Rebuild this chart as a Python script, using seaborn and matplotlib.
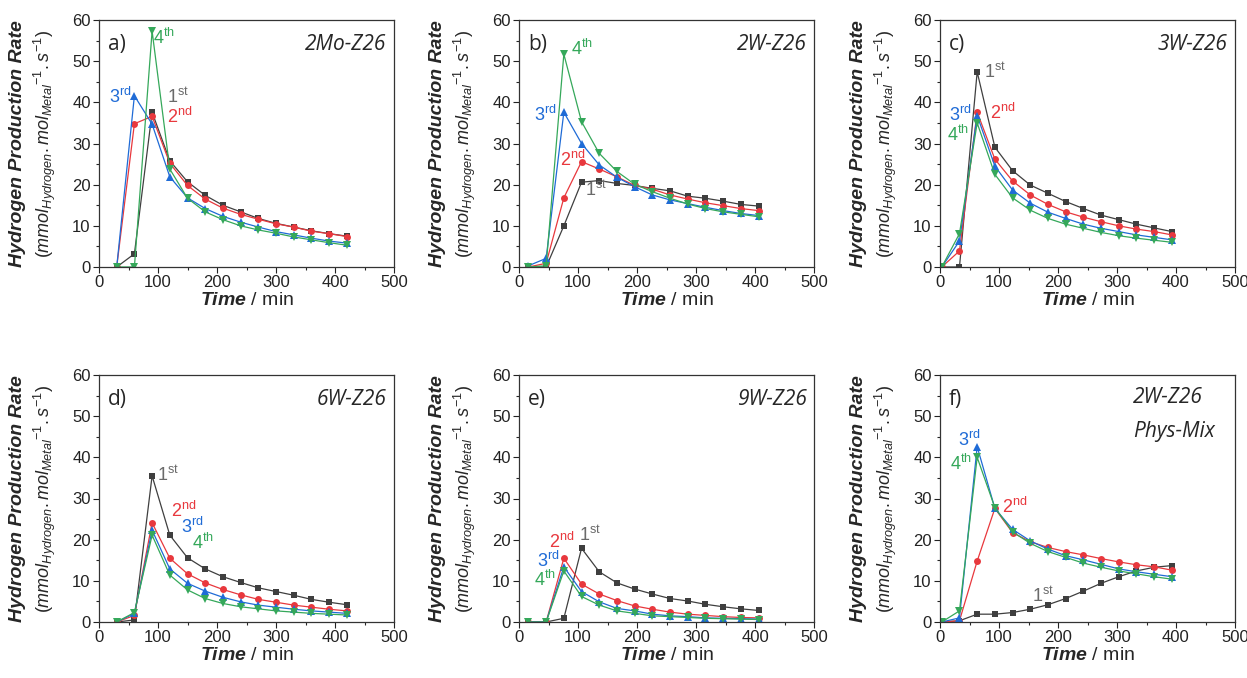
import matplotlib
matplotlib.use('Agg')
import matplotlib.pyplot as plt
import seaborn as sns

sns.set_theme(style='white')
plt.rcParams['font.family'] = ['Liberation Sans', 'DejaVu Sans']
plt.rcParams['mathtext.fontset'] = 'custom'
plt.rcParams['mathtext.rm'] = 'Liberation Sans'
plt.rcParams['mathtext.it'] = 'Liberation Sans:italic'
plt.rcParams['mathtext.bf'] = 'Liberation Sans:italic:bold'

# Sampling times (min) per panel
time_a = [30, 60, 90, 120, 150, 180, 210, 240, 270, 300, 330, 360, 390, 420]
time_b = [16, 46, 76, 106, 136, 166, 196, 226, 256, 286, 316, 346, 376, 406]
time_c = [3, 33, 63, 93, 123, 153, 183, 213, 243, 273, 303, 333, 363, 393]

# a) 2Mo-Z26
a_1st = [0, 3.2, 37.6, 25.8, 20.7, 17.4, 15.0, 13.4, 11.8, 10.6, 9.7, 8.8, 8.1, 7.5]
a_2nd = [0, 34.8, 36.6, 25.2, 19.8, 16.5, 14.3, 12.8, 11.6, 10.5, 9.7, 8.7, 8.1, 7.4]
a_3rd = [0, 41.6, 34.7, 21.9, 16.8, 14.2, 12.3, 10.9, 9.7, 8.6, 7.8, 7.0, 6.3, 5.8]
a_4th = [0, 0, 57.3, 23.8, 16.7, 13.4, 11.5, 10.0, 9.0, 8.2, 7.3, 6.6, 5.9, 5.3]

# b) 2W-Z26
b_1st = [0, 0, 10.0, 20.6, 21.0, 20.3, 19.8, 19.1, 18.5, 17.2, 16.7, 16.0, 15.2, 14.8]
b_2nd = [0, 0.9, 16.8, 25.6, 23.8, 21.9, 19.8, 18.9, 17.5, 16.5, 15.6, 14.9, 14.2, 13.7]
b_3rd = [0.3, 2.1, 37.6, 30.0, 24.8, 21.8, 19.5, 17.5, 16.3, 15.4, 14.5, 13.7, 13.0, 12.5]
b_4th = [0, 0.3, 51.7, 35.3, 27.6, 23.2, 20.1, 18.3, 16.7, 15.3, 14.2, 13.4, 12.8, 12.2]

# c) 3W-Z26
c_1st = [0, 0, 47.4, 29.1, 23.4, 19.9, 17.9, 15.9, 14.2, 12.6, 11.5, 10.4, 9.5, 8.6]
c_2nd = [0, 3.9, 37.6, 26.2, 20.9, 17.5, 15.2, 13.4, 12.1, 11.0, 10.0, 9.2, 8.6, 7.8]
c_3rd = [0, 6.3, 36.8, 24.5, 18.7, 15.5, 13.3, 11.8, 10.4, 9.4, 8.6, 7.8, 7.2, 6.6]
c_4th = [0, 8.1, 35.0, 22.5, 16.8, 13.8, 11.8, 10.4, 9.4, 8.4, 7.6, 7.0, 6.5, 6.0]

# d) 6W-Z26
d_1st = [0, 0.5, 35.5, 21.1, 15.6, 12.9, 11.0, 9.6, 8.3, 7.4, 6.5, 5.5, 4.8, 4.2]
d_2nd = [0, 1.6, 24.1, 15.5, 11.7, 9.5, 7.9, 6.6, 5.5, 4.8, 4.1, 3.6, 3.1, 2.7]
d_3rd = [0, 2.1, 22.3, 12.9, 9.4, 7.5, 6.0, 4.9, 4.1, 3.6, 3.1, 2.7, 2.4, 2.1]
d_4th = [0, 2.3, 21.1, 11.4, 7.8, 5.7, 4.5, 3.7, 3.2, 2.7, 2.4, 2.1, 1.9, 1.7]

# e) 9W-Z26
e_1st = [0, 0, 0.9, 17.9, 12.2, 9.5, 8.0, 6.8, 5.7, 5.1, 4.3, 3.7, 3.2, 2.8]
e_2nd = [0, 0, 15.5, 9.2, 6.8, 5.2, 3.9, 3.1, 2.4, 1.9, 1.6, 1.3, 1.1, 1.0]
e_3rd = [0, 0, 13.4, 7.4, 4.9, 3.3, 2.7, 1.9, 1.5, 1.3, 1.0, 0.9, 0.8, 0.7]
e_4th = [0, 0, 12.4, 6.2, 4.1, 2.7, 2.1, 1.5, 1.3, 1.1, 0.9, 0.8, 0.7, 0.6]

# f) 2W-Z26 Phys-Mix
f_1st = [0, 0.3, 1.9, 1.9, 2.3, 3.1, 4.2, 5.7, 7.5, 9.4, 11.0, 12.4, 13.3, 13.7]
f_2nd = [0, 0.3, 14.8, 27.6, 21.7, 19.5, 18.1, 17.1, 16.3, 15.4, 14.6, 13.9, 13.4, 12.6]
f_3rd = [0, 1.0, 42.6, 27.6, 22.5, 19.7, 17.7, 16.1, 15.1, 14.0, 12.9, 12.2, 11.6, 11.0]
f_4th = [0, 2.7, 40.0, 27.8, 21.9, 19.1, 17.1, 15.7, 14.3, 13.3, 12.4, 11.7, 11.0, 10.4]

colors = ['#3f3f3f', '#e8383d', '#1f6bd6', '#35a85a']
text_colors = ['#6a6a6a', '#e8383d', '#1f6bd6', '#35a85a']
markers = ['s', 'o', '^', 'v']
run_labels = [r'1$^{\mathrm{st}}$', r'2$^{\mathrm{nd}}$', r'3$^{\mathrm{rd}}$', r'4$^{\mathrm{th}}$']

panels = [
    ('a)', ['2Mo-Z26'], time_a, [a_1st, a_2nd, a_3rd, a_4th],
     [(134, 41.3), (137, 36.4), (36, 41.3), (110, 55.6)]),
    ('b)', ['2W-Z26'], time_b, [b_1st, b_2nd, b_3rd, b_4th],
     [(130, 18.7), (91, 26), (44, 36.9), (107, 53)]),
    ('c)', ['3W-Z26'], time_c, [c_1st, c_2nd, c_3rd, c_4th],
     [(93, 47.4), (107, 37.3), (34, 36.9), (31, 32)]),
    ('d)', ['6W-Z26'], time_a, [d_1st, d_2nd, d_3rd, d_4th],
     [(117, 35.7), (144, 27.0), (158, 23.1), (177, 19.2)]),
    ('e)', ['9W-Z26'], time_b, [e_1st, e_2nd, e_3rd, e_4th],
     [(120, 21.1), (73, 19.5), (49, 14.9), (44, 10.3)]),
    ('f)', ['2W-Z26', 'Phys-Mix'], time_c, [f_1st, f_2nd, f_3rd, f_4th],
     [(175, 6.2), (127, 28), (49, 44.2), (36, 38.5)]),
]

W, H = 1247, 678
fig = plt.figure(figsize=(W / 100, H / 100), dpi=100)
lefts = [99, 519, 940]
bottoms = [267, 622]
aw, ah = 295, 247

for i, (letter, name, t, runs, label_pos) in enumerate(panels):
    row, col = divmod(i, 3)
    ax = fig.add_axes([lefts[col] / W, 1 - bottoms[row] / H, aw / W, ah / H])

    for vals, c, m in zip(runs, colors, markers):
        ms = 5 if m in ('s', 'o') else 6
        sns.lineplot(x=t, y=vals, ax=ax, color=c, marker=m, markersize=ms,
                     markeredgewidth=0, linewidth=0.9)

    for (lx, ly), lab, tc in zip(label_pos, run_labels, text_colors):
        ax.text(lx, ly, lab, color=tc, fontsize=13, ha='center', va='center')

    ax.set_xlim(0, 500)
    ax.set_ylim(0, 60)
    ax.set_xticks(range(0, 501, 100))
    ax.set_xticks(range(50, 500, 100), minor=True)
    ax.set_yticks(range(0, 61, 10))
    ax.set_yticks(range(5, 60, 10), minor=True)
    ax.tick_params(which='major', direction='out', length=4, width=0.8,
                   labelsize=12, colors='#222222', bottom=True, left=True, pad=2)
    ax.tick_params(which='minor', direction='out', length=2.5, width=0.8,
                   bottom=True, left=True)
    for sp in ax.spines.values():
        sp.set_color('#333333')
        sp.set_linewidth(0.9)

    ax.text(0.03, 0.9, letter, transform=ax.transAxes, fontsize=15,
            ha='left', va='center', family='Open Sans')
    if len(name) == 2:
        ax.text(0.655, 0.91, name[0], transform=ax.transAxes, fontsize=15,
                ha='left', va='center', style='italic', family='Open Sans')
        ax.text(0.655, 0.77, name[1], transform=ax.transAxes, fontsize=15,
                ha='left', va='center', style='italic', family='Open Sans')
    else:
        ax.text(0.975, 0.9, name[0], transform=ax.transAxes, fontsize=15,
                ha='right', va='center', style='italic', family='Open Sans')

    ax.set_xlabel(r'$\mathbf{Time}$ / min', fontsize=14, labelpad=1)
    ax.set_ylabel('')
    ax.text(-0.275, 0.5, 'Hydrogen Production Rate', transform=ax.transAxes,
            rotation=90, ha='center', va='center', fontsize=14,
            fontweight='bold', style='italic')
    ax.text(-0.183, 0.5, r'$(mmol_{Hydrogen}.mol_{Metal}{}^{-1}.s^{-1})$',
            transform=ax.transAxes, rotation=90, ha='center', va='center',
            fontsize=13)

fig.savefig('out.png', dpi=100)
